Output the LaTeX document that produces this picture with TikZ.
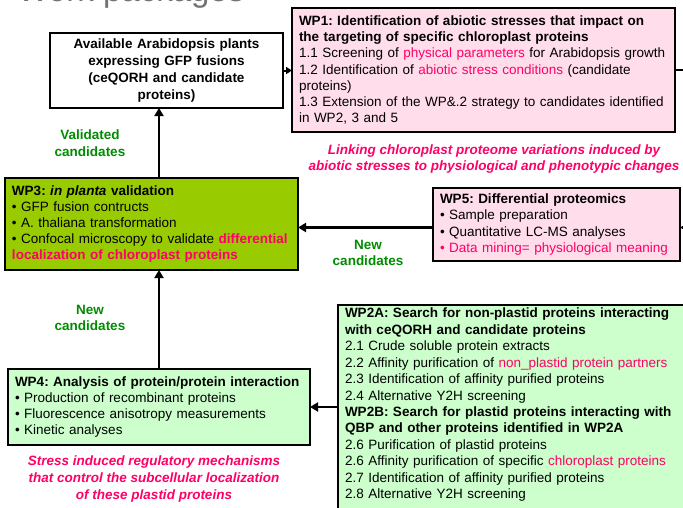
\documentclass[tikz,border=0pt]{standalone}
\usepackage{fontspec}
\setmainfont{Liberation Sans}
\usetikzlibrary{arrows.meta}
\frenchspacing

\definecolor{wppink}{RGB}{255,221,235}
\definecolor{wplime}{RGB}{153,204,0}
\definecolor{wpmint}{RGB}{204,255,204}
\definecolor{hotpink}{RGB}{255,0,102}
\definecolor{leafgreen}{RGB}{0,140,0}
\definecolor{titlegray}{RGB}{115,115,115}
\newcommand{\hl}[1]{\textcolor{hotpink}{#1}}

\tikzset{
	wpbox/.style={draw, line width=1.6pt, anchor=north west, outer sep=0pt, align=left,
		inner xsep=7pt, inner ysep=3pt, font=\fontsize{13.5}{16.2}\selectfont},
	flow/.style={line width=2.5pt, -{Triangle[length=8pt,width=9pt]}},
	note/.style={align=center, font=\fontsize{13.5}{16.5}\selectfont\bfseries\itshape, text=hotpink},
	cand/.style={align=center, font=\fontsize{13.5}{16.5}\selectfont\bfseries, text=leafgreen}
}

\begin{document}
\begin{tikzpicture}[x=1pt,y=-1pt]
			\useasboundingbox (0,0) rectangle (683,507);
			\clip (0,0) rectangle (683,507);
			\coordinate (spine) at (159,0);
			\coordinate (offright) at (700,0);
			\node[anchor=base west, font=\fontsize{33}{33}\selectfont, text=titlegray] (title) at (14,1.5) {Work packages};
			\node[wpbox, fill=white, align=center, font=\fontsize{13.5}{17}\selectfont\bfseries,
				text width=219pt, minimum width=233pt, minimum height=75pt] (avail) at (50,33)
				{Available Arabidopsis plants\\expressing GFP fusions\\(ceQORH and candidate\\proteins)};
			\node[wpbox, fill=wppink, text width=369pt, minimum width=383pt, minimum height=124pt] (wpone) at (292,8)
				{{\bfseries WP1: Identification of abiotic stresses that impact on\\the targeting of specific chloroplast proteins}\\
				1.1 Screening of \hl{physical parameters} for Arabidopsis growth\\
				1.2 Identification of \hl{abiotic stress conditions} (candidate\\
				proteins)\\
				1.3 Extension of the WP\&.2 strategy to candidates identified\\
				in WP2, 3 and 5};
			\node[wpbox, fill=wplime, text width=279pt, minimum width=293pt, minimum height=92pt] (wpthree) at (5,178)
				{{\bfseries WP3: \textit{in planta} validation}\\
				• GFP fusion contructs\\
				• A. thaliana transformation\\
				• Confocal microscopy to validate \hl{\bfseries differential}\\
				\hl{\bfseries localization of chloroplast proteins}};
			\node[wpbox, fill=wppink, text width=233pt, minimum width=247pt, minimum height=73pt] (wpfive) at (433,188)
				{{\bfseries WP5: Differential proteomics}\\
				• Sample preparation\\
				• Quantitative LC-MS analyses\\
				\hl{• Data mining= physiological meaning}};
			\node[wpbox, fill=wpmint, text width=288pt, minimum width=302pt, minimum height=76pt] (wpfour) at (8,369)
				{{\bfseries WP4: Analysis of protein/protein interaction}\\
				• Production of recombinant proteins\\
				• Fluorescence anisotropy measurements\\
				• Kinetic analyses};
			\node[wpbox, fill=wpmint, text width=380pt, font=\fontsize{13.5}{16.45}\selectfont] (wptwo) at (338,305)
				{{\bfseries WP2A: Search for non-plastid proteins interacting\\with ceQORH and candidate proteins}\\
				2.1 Crude soluble protein extracts\\
				2.2 Affinity purification of \hl{non\_plastid protein partners}\\
				2.3 Identification of affinity purified proteins\\
				2.4 Alternative Y2H screening\\
				{\bfseries WP2B: Search for plastid proteins interacting with\\QBP and other proteins identified in WP2A}\\
				2.6 Purification of plastid proteins\\
				2.6 Affinity purification of specific \hl{chloroplast proteins}\\
				2.7 Identification of affinity purified proteins\\
				2.8 Alternative Y2H screening\\
				\mbox{}};
			\node[cand] (validated) at (90,143) {Validated\\candidates};
			\node[cand] (newmid) at (368,253) {New\\candidates};
			\node[cand] (newleft) at (90,318) {New\\candidates};
			\node[note] (linking) at (494,159) {Linking chloroplast proteome variations induced by\\abiotic stresses to physiological and phenotypic changes};
			\node[note] (stress) at (154,479) {Stress induced regulatory mechanisms\\that control the subcellular localization\\of these plastid proteins};
			\draw[flow, line width=2pt, -{Triangle[length=6pt,width=7pt]}] (avail.east) -- (avail.east -| wpone.west);
			\draw[line width=2.5pt] (wpone.east) -- (wpone.east -| offright);
			\draw[flow] (spine |- wpthree.north) -- (spine |- avail.south);
			\draw[flow] (spine |- wpfour.north) -- (spine |- wpthree.south);
			\draw[flow] ([yshift=-3pt]wpfive.west) -- ([yshift=-3pt]wpfive.west -| wpthree.east);
			\draw[flow] ([yshift=-3pt]wpfive.east -| offright) -- ([yshift=-3pt]wpfive.east);
			\draw[flow] (wptwo.west |- wpfour.east) -- (wpfour.east);
		\end{tikzpicture}
\end{document}
